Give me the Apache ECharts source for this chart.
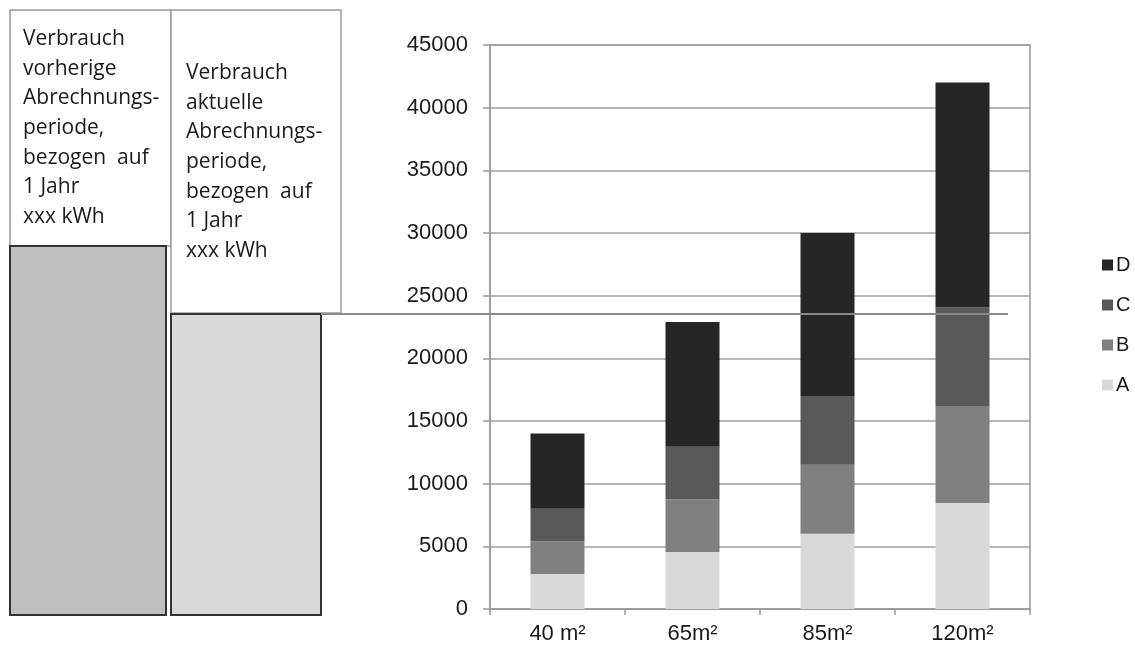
<!DOCTYPE html>
<html>
<head>
<meta charset="utf-8">
<script src="https://cdn.jsdelivr.net/npm/echarts@6/dist/echarts.min.js"></script>
<style>html,body{margin:0;padding:0;background:#fff}#c{width:1135px;height:647px}</style>
</head>
<body>
<div id="c"></div>
<script>
var categories = ['40 m²', '65m²', '85m²', '120m²'];
var seriesA = [2800, 4550, 6000, 8450];
var seriesB = [2600, 4200, 5500, 7750];
var seriesC = [2600, 4200, 5500, 7850];
var seriesD = [6000, 9950, 13000, 17950];
var yTicks = { min: 0, max: 45000, interval: 5000 };
var legendOrder = ['D', 'C', 'B', 'A'];
var boxText1 = ['Verbrauch', 'vorherige', 'Abrechnungs-', 'periode,', 'bezogen  auf', '1 Jahr', 'xxx kWh'];
var boxText2 = ['Verbrauch', 'aktuelle', 'Abrechnungs-', 'periode,', 'bezogen  auf', '1 Jahr', 'xxx kWh'];

var colors = { A: '#d9d9d9', B: '#808080', C: '#595959', D: '#262626' };
var chart = echarts.init(document.getElementById('c'));
function bar(name, data) {
  return { name: name, type: 'bar', stack: 'total', data: data, barWidth: '40%',
    itemStyle: { color: colors[name] } };
}
chart.setOption({
  animation: false,
  textStyle: { fontFamily: 'Liberation Sans, Arial, sans-serif' },
  grid: { left: 490, right: 105, top: 45, bottom: 38, show: true, borderColor: '#999', borderWidth: 1.5 },
  legend: {
    orient: 'vertical', left: 1097, top: 250, data: legendOrder,
    icon: 'rect', itemWidth: 11, itemHeight: 11, itemGap: 20,
    textStyle: { fontSize: 20, color: '#1a1a1a', padding: [0, 0, 0, -2] }
  },
  xAxis: {
    type: 'category', data: categories,
    axisLine: { lineStyle: { color: '#999', width: 1.5 } },
    axisTick: { show: true, length: 6, lineStyle: { color: '#999', width: 1.5 } },
    axisLabel: { fontSize: 22, color: '#1a1a1a', margin: 14 }
  },
  yAxis: {
    type: 'value', min: yTicks.min, max: yTicks.max, interval: yTicks.interval,
    axisLine: { show: true, lineStyle: { color: '#999', width: 1.5 } },
    axisTick: { show: true, length: 7, lineStyle: { color: '#999', width: 1.5 } },
    splitLine: { lineStyle: { color: '#a0a0a0', width: 1.5 } },
    axisLabel: { fontSize: 22, color: '#1a1a1a', margin: 22, formatter: function (v) { return String(v); } }
  },
  series: [bar('A', seriesA), bar('B', seriesB), bar('C', seriesC), bar('D', seriesD)],
  graphic: [
    { type: 'rect', z: 100, shape: { x: 10, y: 10, width: 161, height: 236 }, style: { fill: '#fff', stroke: '#999', lineWidth: 1.5 } },
    { type: 'rect', z: 100, shape: { x: 171, y: 10, width: 170, height: 303 }, style: { fill: '#fff', stroke: '#999', lineWidth: 1.5 } },
    { type: 'rect', z: 101, shape: { x: 10, y: 246, width: 156, height: 369 }, style: { fill: '#bfbfbf', stroke: '#333', lineWidth: 2 } },
    { type: 'rect', z: 101, shape: { x: 171, y: 314, width: 150, height: 301 }, style: { fill: '#d9d9d9', stroke: '#333', lineWidth: 2 } },
    { type: 'line', z: 102, shape: { x1: 321, y1: 314, x2: 1008, y2: 314 }, style: { stroke: '#8a8a8a', lineWidth: 2 } },
    { type: 'text', z: 103, x: 23, y: 24, style: { text: boxText1.join('\n'), font: '21px "Open Sans"', fill: '#1a1a1a', lineHeight: 29.7, verticalAlign: 'top' } },
    { type: 'text', z: 103, x: 186, y: 58, style: { text: boxText2.join('\n'), font: '21px "Open Sans"', fill: '#1a1a1a', lineHeight: 29.7, verticalAlign: 'top' } }
  ]
});
</script>
</body>
</html>
